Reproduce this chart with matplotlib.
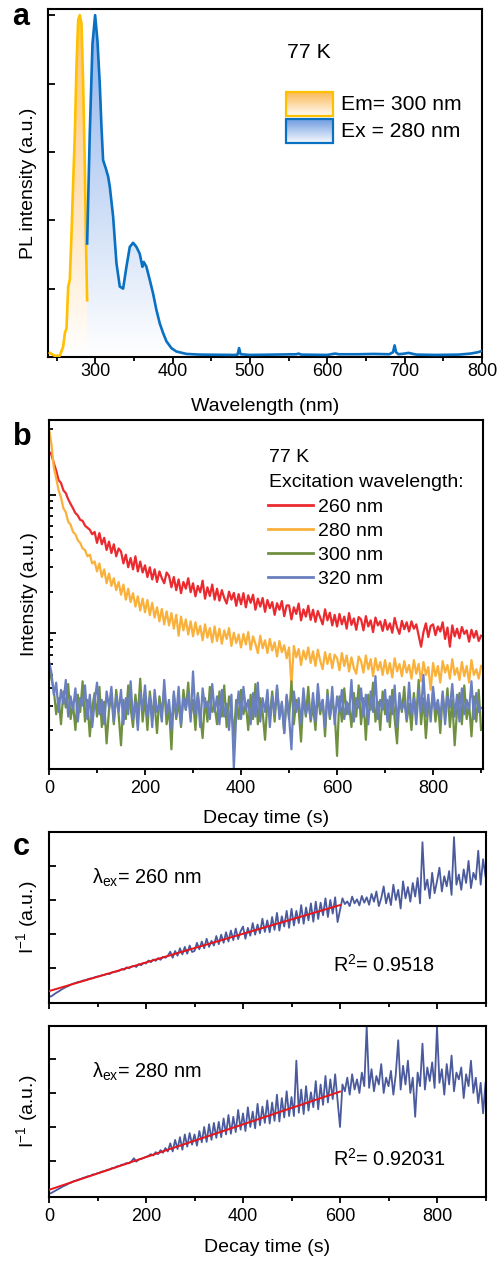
import numpy as np
import matplotlib
matplotlib.use('Agg')
import matplotlib.pyplot as plt
from matplotlib.colors import LinearSegmentedColormap
from matplotlib.patches import Polygon, Rectangle
from matplotlib.ticker import MultipleLocator, LogLocator, NullFormatter, FixedLocator

plt.rcParams['font.family'] = ['Liberation Sans', 'DejaVu Sans']
plt.rcParams['mathtext.fontset'] = 'custom'
plt.rcParams['mathtext.rm'] = 'Liberation Sans'
plt.rcParams['mathtext.it'] = 'Liberation Sans:italic'

# ---------------- data: panel a (spectra) ----------------
exc_wl = [241.4, 247.9, 254.3, 258.6, 260.8, 262.9, 265.1, 267.2, 269.4, 271.5, 273.7,
          275.8, 278.0, 280.1, 282.3, 284.4, 286.6, 287.9, 289.6]
exc_int = [0.06, 0.015, 0.02, 0.15, 0.35, 0.42, 1.03, 1.13, 1.81, 2.54, 3.27,
           4.25, 4.93, 5.0, 4.88, 4.0, 2.78, 1.81, 0.83]

em_wl = [289.6, 293.0, 296.5, 299.9, 302.9, 305.9, 308.1, 310.2, 313.7, 316.7, 318.9,
         323.2, 327.5, 331.8, 336.1, 340.4, 344.7, 349.0, 353.3, 357.6, 361.0, 362.8,
         366.2, 370.5, 374.8, 379.1, 383.5, 387.8, 392.1, 398.5, 405.0, 417.9, 435.1,
         480, 484, 486, 488, 500, 560, 563, 566, 600, 610, 615, 640, 660, 680, 685,
         687, 689, 692, 700, 705, 715, 740, 770, 785, 795, 800]
em_int = [1.66, 3.27, 4.58, 5.0, 4.63, 4.0, 3.37, 2.88, 2.76, 2.64, 2.49,
          2.05, 1.37, 1.03, 1.0, 1.32, 1.61, 1.67, 1.61, 1.51, 1.32, 1.39,
          1.32, 1.13, 0.93, 0.69, 0.49, 0.35, 0.23, 0.13, 0.08, 0.045, 0.035,
          0.03, 0.035, 0.13, 0.04, 0.03, 0.04, 0.05, 0.035, 0.03, 0.05, 0.04, 0.04,
          0.045, 0.04, 0.07, 0.17, 0.07, 0.04, 0.05, 0.06, 0.035, 0.03, 0.035, 0.05,
          0.07, 0.09]

a_xticks = [300, 400, 500, 600, 700, 800]
a_labels = ['Em= 300 nm', 'Ex = 280 nm']

# ---------------- data: panel b (decay curves, 5 s steps) ----------------
t_b = np.arange(0, 901, 5)
i_260 = [205, 196, 170, 150, 128, 122, 108, 103, 93, 86,
         80, 74, 71, 66, 65, 60, 58, 56, 52, 54,
         45, 53, 44, 49, 40, 46, 38, 44, 36, 41,
         39, 32, 37, 30, 35, 29, 36, 28, 33, 27.5,
         31, 25.5, 30, 24.5, 29, 23.5, 28, 25, 23, 27.5,
         26, 21.5, 25.5, 20.5, 24.5, 19.5, 23.5, 21, 25, 19.8,
         23, 18.5, 22, 19.8, 24, 17.8, 21.5, 18.6, 22.5, 17.5,
         21, 17.2, 20.5, 18, 16.4, 20, 17.5, 19.6, 15.8, 19.2,
         16.2, 19.5, 15.4, 18.8, 16.6, 19, 14.8, 17.8, 15.6, 18,
         14.3, 17.4, 15.2, 16.8, 13.6, 16.5, 14.8, 17.1, 13.3, 15.9,
         15.9, 12.6, 15.4, 13.8, 16.4, 12.4, 14.9, 13.2, 15.8, 12.5,
         14.8, 12.1, 14.5, 13, 11.6, 14.9, 12.4, 14.1, 11.4, 13.6,
         11.2, 13.8, 11.6, 13.2, 10.8, 14, 11.5, 12.8, 10.6, 13.1,
         12.6, 10.5, 13.3, 11.2, 12.4, 10.2, 13, 11.4, 12.2, 10.4,
         12.5, 10.6, 11.8, 10.1, 12.9, 11, 9.9, 12.3, 10.7, 12,
         10.3, 12.2, 10.8, 11.6, 9.6, 8.0, 10.2, 11.8, 9.4, 11.3,
         11.6, 9.7, 11.2, 10.3, 12, 9.1, 11, 8.0, 11.4, 9.5,
         10.8, 9.2, 11.1, 9.9, 10.5, 8.7, 10.6, 9.3, 10.4, 8.8,
         9.6]
i_280 = [300, 235, 158, 132, 108, 96, 80, 75, 64, 61,
         54, 52, 47, 45, 41, 40, 36, 37, 32, 33,
         28, 32, 25.5, 29, 23, 27, 22, 25, 20.5, 23.5,
         19, 22.5, 17.5, 21, 16.8, 19.5, 15.6, 18.5, 14.6, 17.8,
         14.2, 17.4, 13.5, 16.6, 13, 15.4, 12.2, 15, 11.6, 14.4,
         11.4, 14, 10.8, 13.6, 9.6, 13.2, 10.5, 12.6, 9.8, 12.2,
         9.5, 12, 9.8, 11.3, 8.9, 11.6, 9.3, 10.9, 8.6, 11.2,
         8.8, 10.8, 8.4, 10.5, 9.1, 10.9, 8.1, 10.1, 8.5, 9.8,
         7.9, 9.9, 8.3, 10.2, 7.6, 9.5, 8.4, 7.2, 9.6, 7.8,
         8.9, 7.2, 9.1, 7.5, 8.6, 6.8, 8.8, 7.3, 8.2, 6.6,
         7.9, 4.2, 8.1, 6.7, 7.7, 5.9, 7.5, 6.5, 7.9, 6.1,
         7.4, 5.8, 7.6, 6.3, 5.5, 7.3, 6, 7.1, 5.6, 7,
         6.6, 5.4, 7.2, 5.8, 6.9, 5.3, 6.7, 5.6, 5.1, 6.8,
         6.3, 5.2, 6.9, 5.5, 6.5, 4.9, 6.6, 5.4, 6.2, 5,
         6.4, 5.1, 6.1, 4.8, 6.6, 5.3, 6, 4.9, 6.3, 5.2,
         5.9, 4.7, 6.4, 5.1, 6, 4.5, 6.2, 5, 5.7, 3.9,
         6.1, 4.9, 5.8, 4.4, 6.3, 5.2, 5.9, 4.7, 6.5, 5,
         5.6, 4.6, 6.2, 4.9, 5.8, 4.4, 6.4, 5, 5.5, 4.7,
         5.8]
i_300 = [5.6, 4.7, 3.9, 2.6, 3.4, 2.2, 3.8, 2.9, 4.3, 2.4,
         3.1, 2.0, 3.6, 2.7, 4.5, 2.3, 3.3, 1.8, 2.9, 3.7,
         2.5, 4.1, 2.1, 3.2, 1.6, 2.8, 3.5, 2.2, 3.9, 2.6,
         1.55, 3.3, 2.4, 4.2, 2.9, 2.1, 3.6, 2.5, 4.7, 2.3,
         3.4, 2.0, 3.8, 2.7, 3.1, 1.9, 3.5, 2.6, 4.0, 2.2,
         2.9, 1.45, 3.6, 2.4, 3.2, 2.1, 3.9, 2.8, 4.4, 2.5,
         3.3, 2.0, 3.7, 2.6, 1.75, 3.4, 2.3, 4.1, 2.7, 3.0,
         2.2, 3.8, 2.5, 4.2, 2.1, 3.5, 2.8, 1.8, 3.3, 2.4,
         3.9, 2.6, 3.1, 2.0, 3.6, 2.4, 4.3, 2.2, 3.4, 2.7,
         1.7, 3.2, 2.5, 3.8, 2.3, 4.0, 2.6, 3.1, 1.9, 3.5,
         2.4, 4.5, 2.2, 3.3, 2.8, 1.65, 3.6, 2.5, 4.1, 2.3,
         3.0, 2.0, 3.7, 2.6, 3.3, 1.8, 3.9, 2.4, 3.2, 2.7,
         1.3, 3.5, 2.3, 4.0, 2.6, 3.1, 2.1, 3.7, 2.5, 4.2,
         2.2, 3.4, 1.7, 3.6, 2.8, 4.4, 2.3, 3.2, 2.0, 3.8,
         2.6, 3.3, 2.1, 3.9, 2.4, 1.6, 3.5, 2.7, 4.1, 2.3,
         3.1, 2.0, 3.7, 2.5, 4.6, 2.2, 3.4, 1.75, 3.0, 2.6,
         3.8, 2.3, 3.2, 1.9, 3.6, 2.5, 4.0, 2.1, 3.3, 1.55,
         2.8, 3.7, 2.2, 4.2, 2.4, 3.1, 1.8, 3.5, 2.3, 3.9,
         2.0]
i_320 = [6.3, 5.2, 3.6, 4.4, 2.7, 3.9, 3.1, 4.6, 2.5, 3.5,
         2.8, 4.0, 2.3, 3.4, 3.0, 4.2, 2.4, 3.6, 2.1, 3.2,
         4.4, 2.6, 3.3, 2.2, 3.8, 2.9, 4.1, 2.3, 3.5, 2.7,
         3.9, 2.2, 3.4, 2.6, 4.5, 2.4, 3.2, 2.0, 3.7, 2.8,
         4.2, 2.5, 3.5, 2.1, 3.9, 2.7, 3.1, 2.3, 4.6, 2.6,
         3.3, 2.0, 3.8, 2.5, 4.1, 2.2, 3.4, 2.8, 3.7, 2.3,
         5.3, 2.6, 3.6, 2.1, 4.0, 2.9, 3.2, 2.4, 4.3, 2.7,
         3.5, 2.2, 3.9, 2.5, 3.1, 2.0, 3.6, 1.05, 2.6, 3.8,
         2.4, 4.1, 2.8, 3.3, 2.2, 3.7, 2.5, 4.4, 2.3, 3.4,
         2.7, 3.9, 2.1, 3.5, 2.6, 4.2, 2.4, 3.2, 1.9, 3.6,
         2.5, 1.45, 3.8, 2.7, 3.4, 2.2, 4.0, 2.6, 3.1, 2.4,
         3.7, 2.3, 4.3, 2.8, 3.3, 2.1, 3.6, 2.5, 4.1, 2.2,
         3.5, 2.7, 3.9, 2.4, 3.2, 2.6, 4.6, 2.3, 3.4, 2.9,
         4.0, 2.5, 3.6, 2.2, 3.8, 2.7, 4.9, 2.4, 3.3, 2.8,
         3.9, 2.3, 3.5, 2.6, 4.2, 2.1, 3.7, 2.8, 3.2, 2.4,
         4.4, 2.6, 3.4, 2.2, 3.9, 2.7, 5.0, 2.5, 3.6, 2.3,
         4.1, 2.8, 3.3, 2.4, 3.8, 2.2, 3.5, 2.9, 4.3, 2.5,
         3.6, 2.3, 4.0, 2.6, 3.3, 2.8, 4.5, 2.4, 3.7, 2.7,
         2.9]
b_labels = ['260 nm', '280 nm', '300 nm', '320 nm']
b_colors = ['#EB2A30', '#FAB13B', '#6F903E', '#6A7FC0']

# ---------------- data: panel c (inverse intensity, 5 s steps) ----------------
t_c = np.arange(0, 901, 5)
inv_260 = [0.15, 0.17, 0.22, 0.27, 0.31, 0.36, 0.40, 0.44, 0.47, 0.51,
           0.54, 0.56, 0.59, 0.60, 0.63, 0.64, 0.67, 0.69, 0.70, 0.73,
           0.75, 0.76, 0.79, 0.80, 0.83, 0.82, 0.87, 0.88, 0.90, 0.92,
           0.97, 0.95, 1.02, 0.99, 1.04, 1.06, 1.03, 1.11, 1.08, 1.15,
           1.13, 1.22, 1.17, 1.25, 1.21, 1.29, 1.24, 1.33, 1.30, 1.36,
           1.48, 1.30, 1.50, 1.36, 1.58, 1.40, 1.62, 1.42, 1.66, 1.47,
           1.50, 1.74, 1.55, 1.78, 1.58, 1.86, 1.62, 1.80, 1.66, 1.94,
           1.70, 1.98, 1.74, 2.05, 1.78, 2.10, 1.82, 2.16, 1.85, 2.08,
           2.22, 1.86, 2.18, 1.95, 2.32, 1.98, 2.28, 2.02, 2.45, 2.06,
           2.40, 2.05, 2.50, 2.12, 2.62, 2.10, 2.52, 2.22, 2.68, 2.18,
           2.74, 2.25, 2.68, 2.32, 2.85, 2.30, 2.78, 2.40, 2.90, 2.36,
           2.95, 2.44, 2.92, 2.55, 3.05, 2.50, 3.00, 2.60, 3.08, 2.35,
           2.70, 3.05, 2.88, 2.96, 2.82, 3.10, 2.90, 3.02, 2.84, 3.12,
           2.92, 3.08, 2.86, 3.18, 2.95, 3.25, 2.82, 3.05, 3.40, 2.90,
           3.20, 2.85, 3.45, 3.00, 3.30, 2.75, 3.55, 3.05, 3.38, 2.95,
           3.50, 3.10, 3.65, 2.90, 4.70, 3.30, 3.60, 3.05, 3.80, 3.20,
           3.55, 3.95, 3.25, 3.70, 3.40, 3.85, 3.15, 4.85, 3.45, 3.75,
           3.30, 3.90, 3.50, 4.15, 3.35, 3.80, 3.60, 4.45, 3.45, 4.20,
           3.70]
inv_280 = [0.03, 0.06, 0.10, 0.14, 0.18, 0.22, 0.26, 0.29, 0.33, 0.36,
           0.40, 0.42, 0.45, 0.47, 0.50, 0.52, 0.55, 0.56, 0.60, 0.61,
           0.64, 0.66, 0.69, 0.70, 0.74, 0.75, 0.79, 0.80, 0.84, 0.85,
           0.89, 0.90, 0.94, 0.93, 0.99, 1.08, 0.98, 1.04, 1.06, 1.09,
           1.12, 1.15, 1.20, 1.16, 1.26, 1.20, 1.32, 1.24, 1.38, 1.28,
           1.52, 1.28, 1.62, 1.35, 1.70, 1.33, 1.78, 1.42, 1.82, 1.48,
           1.78, 1.45, 1.88, 1.55, 2.00, 1.56, 2.08, 1.62, 2.12, 1.68,
           2.15, 1.70, 2.25, 1.78, 2.35, 1.80, 2.30, 1.85, 2.50, 1.92,
           2.40, 1.88, 2.58, 2.00, 2.45, 1.96, 2.68, 2.05, 2.60, 2.12,
           2.78, 2.10, 2.72, 2.18, 2.95, 2.16, 2.85, 2.28, 3.05, 2.32,
           2.88, 2.32, 3.95, 2.42, 3.10, 2.38, 3.20, 2.48, 3.02, 2.58,
           3.35, 2.52, 3.25, 2.65, 3.50, 2.72, 3.40, 2.82, 3.55, 2.78,
           2.00, 3.25, 3.05, 3.45, 2.95, 3.55, 3.10, 3.40, 3.00, 3.60,
           3.20, 4.95, 3.15, 3.70, 3.05, 3.50, 3.25, 3.85, 3.00, 3.45,
           3.20, 3.65, 2.95, 3.55, 4.55, 3.10, 3.80, 3.25, 3.95, 3.00,
           3.45, 2.30, 3.60, 3.20, 4.45, 3.10, 3.75, 3.35, 3.90, 3.15,
           4.95, 3.30, 3.70, 2.95, 3.85, 3.25, 4.10, 3.05, 3.60, 3.40,
           3.75, 2.85, 3.55, 3.20, 3.95, 3.00, 3.45, 2.70, 3.30, 2.40,
           3.30]
fit_t = [0, 600]
fit_260 = [0.32, 2.85]
fit_280 = [0.15, 3.04]
r2_260 = '0.9518'
r2_280 = '0.92031'

# ---------------- figure ----------------
W, H = 499, 1262
fig = plt.figure(figsize=(W / 100, H / 100), dpi=100)


def add_ax(l, t, r, b):
    return fig.add_axes([l / W, 1 - b / H, (r - l) / W, (b - t) / H])


axA = add_ax(48, 9, 482, 357)
axB = add_ax(49, 420, 483, 769)
axC1 = add_ax(49, 832, 486, 1003)
axC2 = add_ax(49, 1026, 486, 1197)

TICK_FS = 13
LAB_FS = 14
A_FS = 15.2
B_FS = 14
C_FS = 14.3

for ax in (axA, axB, axC1, axC2):
    for s in ax.spines.values():
        s.set_linewidth(1.5)
    ax.tick_params(axis='x', which='both', direction='out', width=1.3, labelsize=TICK_FS)
    ax.tick_params(axis='x', which='major', length=4)
    ax.tick_params(axis='x', which='minor', length=3)
    ax.tick_params(axis='y', which='both', direction='in', width=1.3, labelleft=False)
    ax.tick_params(axis='y', which='major', length=5)
    ax.tick_params(axis='y', which='minor', length=3)


def gradient_fill(ax, x, y, color, top, z):
    cmap = LinearSegmentedColormap.from_list('g', ['white', color])
    grad = np.linspace(0, 1, 256).reshape(-1, 1)
    im = ax.imshow(grad, cmap=cmap, aspect='auto', origin='lower',
                   extent=[min(x), max(x), 0, top], zorder=z, interpolation='bilinear')
    verts = [(x[0], 0)] + list(zip(x, y)) + [(x[-1], 0)]
    poly = Polygon(verts, closed=True, facecolor='none', edgecolor='none')
    ax.add_patch(poly)
    im.set_clip_path(poly)


# ---- panel a ----
A_XL, A_YL = (239, 800), (0, 5.09)
gradient_fill(axA, exc_wl, exc_int, '#FFC36E', 5.0, 1)
gradient_fill(axA, em_wl, em_int, '#8DB2EC', 5.0, 1)
axA.plot(exc_wl, exc_int, color='#FFC000', lw=1.9, zorder=3)
axA.plot(em_wl, em_int, color='#0A70C2', lw=1.9, zorder=3)
axA.xaxis.set_major_locator(FixedLocator(a_xticks))
axA.xaxis.set_minor_locator(MultipleLocator(50))
axA.yaxis.set_major_locator(MultipleLocator(1))
axA.tick_params(axis='x', which='major', pad=0.5)
axA.text(0.5, -0.143, 'Wavelength (nm)', transform=axA.transAxes, ha='center', va='center',
         fontsize=LAB_FS)
axA.text(-0.046, 0.5, 'PL intensity (a.u.)', transform=axA.transAxes, ha='center', va='center',
         rotation=90, fontsize=LAB_FS)
axA.text(0.551, 0.876, '77 K', transform=axA.transAxes, ha='left', va='center', fontsize=A_FS)

# manual gradient legend
leg_items = [('#FBB64F', '#FFC000', 0.7615, 0.6925), ('#6A99E0', '#0A70C2', 0.6839, 0.6149)]
bx0, bx1 = 0.5484, 0.6567
for (fc, ec, yt, yb), lab in zip(leg_items, a_labels):
    cmap = LinearSegmentedColormap.from_list('g', ['#FFFFFF', fc])
    grad = np.linspace(0.05, 1, 64).reshape(-1, 1)
    X0 = A_XL[0] + bx0 * (A_XL[1] - A_XL[0])
    X1 = A_XL[0] + bx1 * (A_XL[1] - A_XL[0])
    Y0 = A_YL[0] + yb * (A_YL[1] - A_YL[0])
    Y1 = A_YL[0] + yt * (A_YL[1] - A_YL[0])
    axA.imshow(grad, cmap=cmap, vmin=0, vmax=1, aspect='auto', origin='lower',
               extent=[X0, X1, Y0, Y1], zorder=4, interpolation='bilinear')
    axA.add_patch(Rectangle((bx0, yb), bx1 - bx0, yt - yb, transform=axA.transAxes,
                            facecolor='none', edgecolor=ec, lw=1.6, zorder=5))
    axA.text(0.675, (yt + yb) / 2, lab, transform=axA.transAxes, ha='left', va='center',
             fontsize=A_FS)
axA.set_xlim(*A_XL)
axA.set_ylim(*A_YL)

# ---- panel b ----
for y, c, lab in zip([i_260, i_280, i_300, i_320], b_colors, b_labels):
    axB.plot(t_b, y, color=c, lw=1.6, label=lab)
axB.set_yscale('log')
axB.set_xlim(0, 904)
axB.set_ylim(1.045, 348)
axB.yaxis.set_major_locator(LogLocator(base=10, numticks=10))
axB.yaxis.set_minor_locator(LogLocator(base=10, subs=np.arange(2, 10), numticks=10))
axB.yaxis.set_major_formatter(NullFormatter())
axB.yaxis.set_minor_formatter(NullFormatter())
axB.xaxis.set_major_locator(MultipleLocator(200))
axB.xaxis.set_minor_locator(MultipleLocator(100))
axB.tick_params(axis='x', which='major', pad=4)
axB.text(0.5, -0.143, 'Decay time (s)', transform=axB.transAxes, ha='center', va='center',
         fontsize=LAB_FS)
axB.text(-0.044, 0.5, 'Intensity (a.u.)', transform=axB.transAxes, ha='center', va='center',
         rotation=90, fontsize=LAB_FS)
axB.text(0.5076, 0.892, '77 K', transform=axB.transAxes, ha='left', va='center', fontsize=B_FS)
axB.text(0.5076, 0.8215, 'Excitation wavelength:', transform=axB.transAxes, ha='left',
         va='center', fontsize=B_FS)
legB = axB.legend(loc='upper left', bbox_to_anchor=(0.5053, 0.776), frameon=False,
                  fontsize=B_FS, handlelength=2.31, handletextpad=0.26, labelspacing=0.325,
                  borderpad=0, borderaxespad=0)
for ln in legB.get_lines():
    ln.set_linewidth(2.0)

# ---- panel c ----
for ax, y, fy, lam, r2, yl in [(axC1, inv_260, fit_260, '260', r2_260, (-0.03, 5.0)),
                                (axC2, inv_280, fit_280, '280', r2_280, (-0.06, 4.97))]:
    ax.plot(t_c, y, color='#4A5A9C', lw=1.3, zorder=2)
    ax.plot(fit_t, fy, color='#E8161B', lw=1.4, zorder=3)
    ax.set_xlim(0, 901)
    ax.set_ylim(*yl)
    ax.yaxis.set_major_locator(FixedLocator([1, 2, 3, 4]))
    ax.xaxis.set_major_locator(MultipleLocator(200))
    ax.xaxis.set_minor_locator(MultipleLocator(100))
    ax.tick_params(axis='x', which='major', pad=4)
    ax.text(-0.05, 0.5, 'I$^{\\mathregular{-1}}$ (a.u.)', transform=ax.transAxes, ha='center',
            va='center', rotation=90, fontsize=LAB_FS)
    ax.text(0.099, 0.73, '\u03bb$_{\\mathregular{ex}}$= ' + lam + ' nm', transform=ax.transAxes,
            ha='left', va='center', fontsize=C_FS)
    ax.text(0.6506, 0.224, 'R$^{\\mathregular{2}}$= ' + r2, transform=ax.transAxes,
            ha='left', va='center', fontsize=C_FS)
axC1.tick_params(axis='x', which='both', labelbottom=False)
axC2.text(0.5, -0.298, 'Decay time (s)', transform=axC2.transAxes, ha='center', va='center',
          fontsize=LAB_FS)

# panel letters
for letter, x, y in [('a', 12, 25), ('b', 13, 445), ('c', 13, 855)]:
    fig.text(x / W, 1 - y / H, letter, fontsize=22, fontweight='bold', ha='left', va='baseline')

fig.savefig('out.png', dpi=100)
